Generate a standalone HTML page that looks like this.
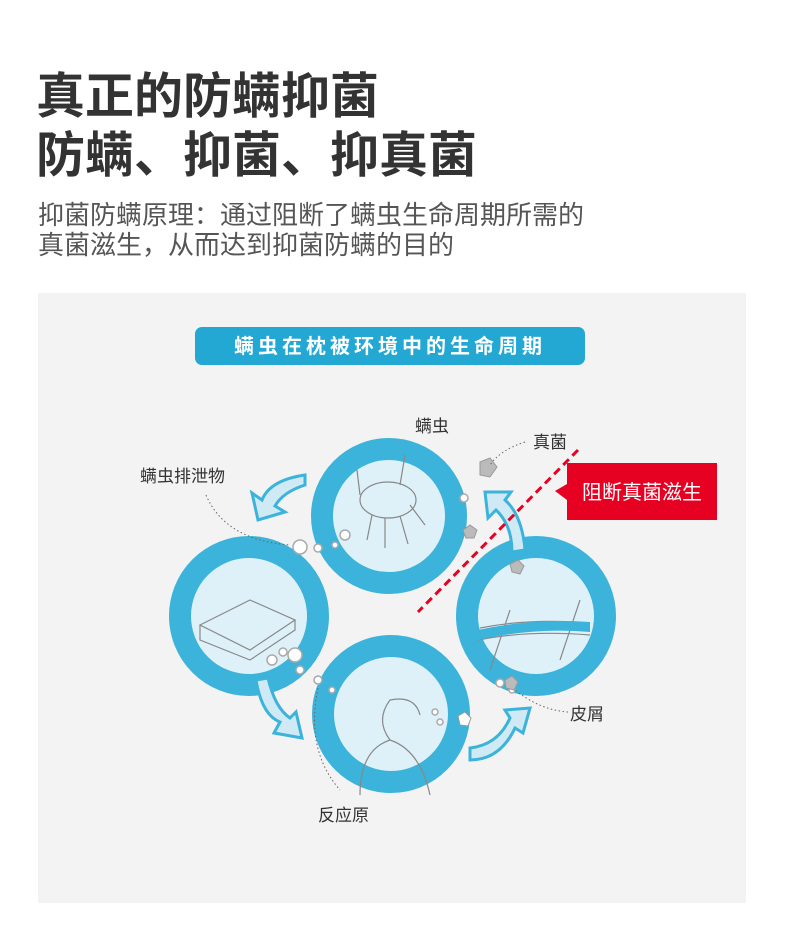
<!DOCTYPE html>
<html><head><meta charset="utf-8"><style>
body{margin:0;width:790px;height:927px;background:#fff;position:relative;overflow:hidden;font-family:"Liberation Sans","Noto Sans CJK SC",sans-serif}
.t{position:absolute;left:36px;color:#333;font-size:49px;line-height:56px;white-space:nowrap;font-weight:bold}
.s{position:absolute;left:38px;top:200px;color:#555;font-size:26px;line-height:30px;white-space:nowrap}
</style></head><body>
<div class="t" style="top:69px">真正的防螨抑菌</div>
<div class="t" style="top:128px">防螨、抑菌、抑真菌</div>
<div class="s">抑菌防螨原理：通过阻断了螨虫生命周期所需的<br>真菌滋生，从而达到抑菌防螨的目的</div>
<svg style="position:absolute;left:0;top:0" width="790" height="927" font-family="Liberation Sans, Noto Sans CJK SC, sans-serif">
<rect x="38" y="293" width="708" height="610" fill="#f3f3f3"/>
<rect x="195" y="327" width="390" height="38" rx="7" fill="#22a8d2"/>
<text x="390" y="353" fill="#fff" font-size="20" letter-spacing="4" text-anchor="middle" font-weight="bold">螨虫在枕被环境中的生命周期</text>
<g fill="#dff1f8" stroke="#3bb3da" stroke-width="22">
<circle cx="389" cy="516" r="67"/>
<circle cx="249" cy="616" r="69"/>
<circle cx="391" cy="714" r="68"/>
<circle cx="536" cy="616" r="69"/>
</g>
<g fill="#cfeaf5" stroke="#3bb3da" stroke-width="3">
<path d="M305 475 Q270 480 262 500 L252 493 L258 520 L285 512 L275 506 Q283 492 305 485 Z"/>
<path d="M256 680 Q262 715 280 722 L274 733 L302 738 L296 712 L290 718 Q275 708 268 678 Z"/>
<path d="M470 760 Q500 760 515 728 L523 733 L530 708 L505 710 L510 718 Q498 745 470 748 Z"/>
<path d="M525 550 Q522 515 505 500 L511 492 L485 492 L488 518 L496 510 Q512 525 512 552 Z"/>
</g>
<g fill="none" stroke="#888" stroke-width="1.2">
<ellipse cx="388" cy="500" rx="28" ry="18"/><path d="M372 515 l-5 25 M385 518 l0 30 M400 516 l8 28 M410 505 l15 20 M360 495 l-3 -25 M400 485 l5 -30"/>
<path d="M200 625 l50 -25 l45 20 l-45 30 z M200 625 l0 15 l50 20 l45 -30 l0 -10"/>
<path d="M360 795 q0-45 30-55 q-15-20 0-40 q25-5 30 15 M390 740 q30 10 40 55"/>
<path d="M480 628 q50 -10 110 -5 M478 640 q50 -10 112 -5 M490 670 l20-60 M560 660 l20-60"/>
</g>
<path d="M478 630 q55 -12 112 -8 l0 10 q-55 -5 -112 8z" fill="#3bb3da"/>
<g fill="#fff" stroke="#aaa" stroke-width="1.5">
<circle cx="300" cy="547" r="7"/><circle cx="318" cy="548" r="4"/><circle cx="335" cy="545" r="3"/><circle cx="345" cy="535" r="5"/>
<circle cx="295" cy="655" r="7"/><circle cx="283" cy="652" r="4"/><circle cx="272" cy="660" r="5"/><circle cx="300" cy="670" r="4"/>
<circle cx="318" cy="680" r="4"/><circle cx="332" cy="690" r="3"/><circle cx="435" cy="712" r="3"/><circle cx="440" cy="722" r="3"/>
<circle cx="464" cy="498" r="4"/><circle cx="500" cy="683" r="4"/><circle cx="512" cy="690" r="3"/>
</g>
<g fill="#bbb" stroke="#999">
<polygon points="480,462 490,458 497,467 490,477 480,475"/><polygon points="463,530 470,525 477,530 474,538 466,538"/>
<polygon points="510,564 518,560 524,566 520,574 512,572"/><polygon points="505,680 512,676 518,682 514,690 506,688"/>
<polygon points="458,716 465,712 471,718 468,726 460,725" fill="#fff"/>
</g>
<path d="M578 450 L418 612" stroke="#e60022" stroke-width="3" stroke-dasharray="8,5"/>
<path d="M567 463 H717 V520 H567 V500 L555 491 L567 484 Z" fill="#e60022"/>
<text x="642" y="499" fill="#fff" font-size="20" text-anchor="middle">阻断真菌滋生</text>
<g fill="none" stroke="#666" stroke-width="1" stroke-dasharray="1.5,2.5">
<path d="M206 495 Q225 540 290 545"/><path d="M525 442 Q500 450 490 465"/>
<path d="M568 712 Q540 710 515 690"/><path d="M318 688 Q305 750 340 790"/>
</g>
<g fill="#333" font-size="17">
<text x="415" y="432">螨虫</text><text x="533" y="448">真菌</text>
<text x="140" y="482">螨虫排泄物</text><text x="570" y="720">皮屑</text>
<text x="318" y="821">反应原</text>
</g>
</svg>
</body></html>
